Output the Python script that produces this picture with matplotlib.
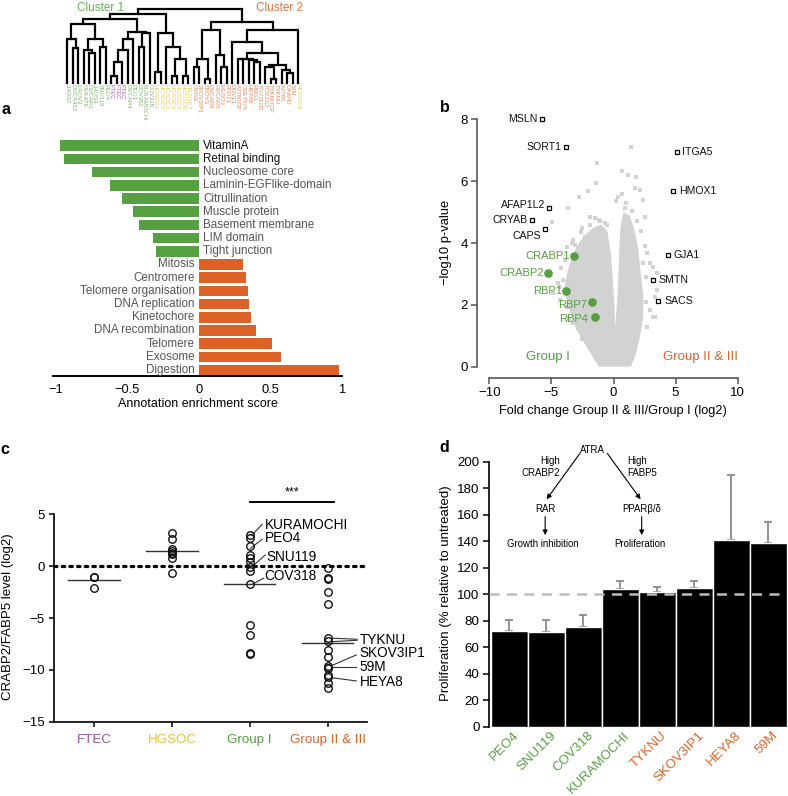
import matplotlib
matplotlib.use("Agg")
import matplotlib.pyplot as plt
import numpy as np

plt.rcParams['font.family'] = ['Liberation Sans', 'DejaVu Sans']
plt.rcParams['axes.unicode_minus'] = True

GREEN = '#55a041'
ORANGE = '#dd6228'
PURPLE = '#9a4fb0'
YELLOW = '#e8c23c'

# ---------------- data ----------------
# dendrogram leaves (left to right) and their group
leaf_names = ['JHOS2', 'OVCA433', 'CAOV3', 'OVKATE', 'OVCAR3', 'JHOS4', 'SNU119', 'PEO4',
              'FTEC', 'FTEC', 'FTEC',
              'OVCAR4', 'PEO1', 'COV362', 'KURAMOCHI', 'COV318',
              'HGSOC1', 'HGSOC2', 'HGSOC3', 'HGSOC4', 'HGSOC5', 'HGSOC6', 'HGSOC7',
              'OVISE', 'SKOV3IP1', 'SKOV3', 'OVCAR8', 'OVCAR5', 'MESOV', 'EFO21', 'DOV13',
              'A2780CP', 'OSE7576', 'HEYA8', 'RMG1', 'TOV112D', 'TOV21G', 'TYKNUCP', 'TYKNU',
              'A2780', 'OAW42', '59M',
              'HGSOC8']
leaf_groups = ['g'] * 8 + ['p'] * 3 + ['g'] * 5 + ['y'] * 7 + ['o'] * 19 + ['y']

# tree: [merge height, left, right]; leaves are indices
tree = [1.0,
        [0.93,
         [0.865,
          [0.80, [0.60, 0, [0.47, 1, 2]],
                 [0.59, [0.45, 3, [0.40, 4, 5]], [0.49, 6, 7]]],
          [0.69, [0.60, [0.45, [0.29, [0.10, 8, 9], 10], 11], 12],
                 [0.67, [0.49, 13, 14], 15]]],
         [0.67, [0.15, 16, 17],
                [0.49, 18, [0.33, [0.09, 19, 20], [0.09, 21, 22]]]]],
        [0.83,
         [0.72, [0.33, [0.22, 23, 24], [0.06, 25, 26]],
                [0.38, 27, [0.22, 28, 29]]],
         [0.72, [0.56, 30,
                 [0.41, [0.33, [0.32, 31, 32], [0.31, 33, [0.29, 34, 35]]],
                        [0.24, [0.22, 36, [0.06, 37, 38]], [0.18, 39, [0.13, 40, 41]]]]],
          42]]]

# panel a: annotation enrichment
terms = ['VitaminA', 'Retinal binding', 'Nucleosome core', 'Laminin-EGFlike-domain',
         'Citrullination', 'Muscle protein', 'Basement membrane', 'LIM domain', 'Tight junction',
         'Mitosis', 'Centromere', 'Telomere organisation', 'DNA replication', 'Kinetochore',
         'DNA recombination', 'Telomere', 'Exosome', 'Digestion']
scores = [-0.97, -0.94, -0.75, -0.62, -0.54, -0.46, -0.42, -0.32, -0.30,
          0.31, 0.33, 0.34, 0.35, 0.36, 0.40, 0.51, 0.57, 0.98]

# panel b: volcano
cloud_x = [-1.2, -2.1, -3.0, -3.6, -4.0, -3.7, -3.3, -2.8, -2.2, -1.6, -1.0, -0.5, -0.2, 0.0,
           0.15, 0.35, 0.45, 0.55, 0.8, 1.3, 1.7, 2.0, 2.2, 2.4, 2.4, 2.1, 1.8, 1.4]
cloud_y = [0.0, 0.6, 1.2, 1.9, 2.5, 3.1, 3.6, 4.0, 4.3, 4.5, 4.6, 4.4, 3.6, 2.5,
           1.3, 2.5, 3.6, 4.5, 5.0, 4.9, 4.4, 3.8, 3.0, 2.3, 1.6, 0.9, 0.4, 0.0]
bg_x = [1.38, -1.30, 0.66, 1.19, -1.41, 1.81, -2.03, -2.75, 1.73, 2.13, 2.40, -3.64, -4.98,
        -1.89, -1.49, -1.09, -0.55, -2.56, -3.24, -3.77, 2.54, 2.94, 3.48, 3.34, 3.21, -4.04,
        -4.31, -3.50, -4.87, -3.77, 3.21, 3.48, 2.94, 3.34, 2.40, 2.67, -4.44, -4.31, -3.37,
        -2.9, -2.3, 1.0, 0.7, 2.2, 2.6, -3.3, 2.7,
        -4.2, -3.9, -3.1, -2.6, -1.9, -1.2, -0.7, 0.9, 1.5, 1.9, 2.5, 2.6, -2.5, -3.6, 0.2, 0.4]
bg_y = [7.12, 6.58, 6.34, 6.20, 5.93, 6.13, 5.70, 5.50, 5.77, 5.72, 5.39, 5.13, 4.69,
        4.85, 4.80, 4.72, 4.59, 4.48, 4.10, 3.88, 4.85, 3.35, 3.02, 2.27, 1.62, 2.81,
        2.59, 2.38, 2.38, 1.94, 3.24, 2.48, 1.83, 1.62, 3.35, 3.67, 2.70, 2.16, 3.99,
        3.8, 4.2, 5.3, 5.6, 4.4, 2.9, 1.4, 1.3,
        3.2, 3.45, 3.95, 4.35, 4.6, 4.75, 4.65, 5.15, 5.05, 4.7, 3.9, 2.1, 0.9, 1.55, 5.35, 5.5]
hit_names = ['MSLN', 'SORT1', 'AFAP1L2', 'CRYAB', 'CAPS', 'ITGA5', 'HMOX1', 'GJA1', 'SMTN', 'SACS']
hit_x = [-5.78, -3.86, -5.17, -6.59, -5.52, 5.08, 4.82, 4.41, 3.21, 3.56]
hit_y = [8.0, 7.12, 5.15, 4.75, 4.46, 6.94, 5.69, 3.61, 2.81, 2.13]
ra_names = ['CRABP1', 'CRABP2', 'RBP1', 'RBP7', 'RBP4']
ra_x = [-3.18, -5.25, -3.82, -1.71, -1.49]
ra_y = [3.58, 3.04, 2.45, 2.10, 1.62]

# panel c: CRABP2/FABP5 ratio
c_groups = ['FTEC', 'HGSOC', 'Group I', 'Group II & III']
c_values = [
    [-1.0, -1.05, -2.07],
    [3.23, 2.62, 1.66, 1.49, 1.30, 1.15, 0.82, -0.63],
    [3.01, 2.69, 1.95, 1.08, 0.76, 0.43, -0.05, -0.46, -1.75, -5.67, -6.63, -8.40, -8.50],
    [-0.14, -1.11, -1.26, -2.52, -3.65, -6.95, -7.18, -8.08, -8.78, -9.62, -9.79, -9.85,
     -10.49, -10.66, -11.29, -11.77],
]
c_centre = [-1.36, 1.47, -1.75, -7.44]

# panel d: proliferation
d_lines = ['PEO4', 'SNU119', 'COV318', 'KURAMOCHI', 'TYKNU', 'SKOV3IP1', 'HEYA8', '59M']
d_values = [72.5, 71.5, 75.5, 104, 101.7, 105, 141, 138.4]
d_err = [7.8, 8.8, 9.0, 6.0, 3.5, 5.2, 49, 16.3]
d_colors = [GREEN] * 4 + [ORANGE] * 4

# ---------------- figure ----------------
W, H = 788, 796
fig = plt.figure(figsize=(W / 100, H / 100), dpi=100)


def add_ax(l, t, r, b):
    return fig.add_axes([l / W, 1 - b / H, (r - l) / W, (b - t) / H])


def ftext(x, y, s, **kw):
    fig.text(x / W, 1 - y / H, s, **kw)


# dendrogram
axt = add_ax(64.55, 5, 301.05, 83)
axt.set_xlim(-0.5, 42.5)
axt.set_ylim(0, 1.054)
axt.axis('off')


def draw_tree(node):
    if isinstance(node, int):
        return node, 0.0
    h, left, right = node
    xl, hl = draw_tree(left)
    xr, hr = draw_tree(right)
    axt.plot([xl, xl, xr, xr], [hl, h, h, hr], color='k', lw=1.6,
             solid_joinstyle='miter', clip_on=False)
    return (xl + xr) / 2, h


draw_tree(tree)
gcol = {'g': '#7cb86b', 'p': '#a463bb', 'y': '#ecc95a', 'o': '#ea8a5e'}
for i, (name, g) in enumerate(zip(leaf_names, leaf_groups)):
    axt.text(i, -0.02, name, rotation=-90, ha='center', va='top', fontsize=4.3,
             color=gcol[g], clip_on=False)
ftext(101, 8, 'Cluster 1', color='#6aad5a', fontsize=8.5, ha='center', va='center')
ftext(279, 8, 'Cluster 2', color='#e07545', fontsize=8.5, ha='center', va='center')

# panel a
axa = add_ax(51.4, 137.8, 342.3, 376)
rows = np.arange(len(terms))
bar_cols = [GREEN if s < 0 else ORANGE for s in scores]
axa.barh(rows, scores, height=0.81, color=bar_cols)
axa.set_xlim(-1.03, 1.0)
axa.set_ylim(17.45, -0.6)
for r, (t, s) in enumerate(zip(terms, scores)):
    col = '#111111' if r < 2 else '#555555'
    if s < 0:
        axa.text(0.03, r, t, ha='left', va='center', fontsize=8.4, color=col)
    else:
        axa.text(-0.03, r, t, ha='right', va='center', fontsize=8.4, color=col)
for s in ['left', 'right', 'top']:
    axa.spines[s].set_visible(False)
axa.spines['bottom'].set_linewidth(1.4)
axa.spines['bottom'].set_bounds(-1.02, 1.0)
axa.set_yticks([])
axa.set_xticks([-1, -0.5, 0, 0.5, 1])
axa.set_xticklabels(['\u22121', '\u22120.5', '0', '0.5', '1'])
axa.tick_params(axis='x', length=0, pad=6, labelsize=9.3)
axa.set_xlabel('Annotation enrichment score', fontsize=9)
axa.xaxis.set_label_coords(0.505, -0.092)

# panel b
axb = add_ax(477.3, 110.2, 741.4, 377.7)
axb.set_xlim(-10.97, 10.3)
axb.set_ylim(-0.356, 8.3)
axb.fill(cloud_x, cloud_y, color='#d2d2d2', lw=0, zorder=1)
axb.scatter(bg_x, bg_y, marker='s', s=6, color='#d2d2d2', lw=0, zorder=2)
axb.plot(hit_x, hit_y, 's', ms=3.0, mfc='white', mec='k', mew=0.9, ls='none', zorder=4)
axb.plot(ra_x, ra_y, 'o', ms=5.2, color=GREEN, ls='none', zorder=4)
hit_off = {'AFAP1L2': (-3, 2), 'CAPS': (-3, -5)}
for n, x, y in zip(hit_names, hit_x, hit_y):
    if x < 0:
        dx, dy = hit_off.get(n, (-3, 0))
        ha = 'right'
    else:
        dx, dy = (4, 0) if n != 'SACS' else (5, 0)
        ha = 'left'
    axb.annotate(n, (x, y), xytext=(dx, dy), textcoords='offset points', ha=ha,
                 va='center', fontsize=7.6, color='#111111')
ra_off = {'RBP7': (-4, -2), 'RBP4': (-5, -2)}
for n, x, y in zip(ra_names, ra_x, ra_y):
    dx, dy = ra_off.get(n, (-3, 0))
    axb.annotate(n, (x, y), xytext=(dx, dy), textcoords='offset points', ha='right',
                 va='center', fontsize=8, color=GREEN)
axb.text(-5.3, 0.3, 'Group I', color=GREEN, fontsize=9.5, ha='center', va='center')
axb.text(7.0, 0.3, 'Group II & III', color=ORANGE, fontsize=9.5, ha='center', va='center')
for s in ['right', 'top']:
    axb.spines[s].set_visible(False)
axb.spines['left'].set_bounds(0, 8)
axb.spines['bottom'].set_bounds(-10, 10)
for s in ['left', 'bottom']:
    axb.spines[s].set_color('#555555')
    axb.spines[s].set_linewidth(1.2)
axb.set_xticks([-10, -5, 0, 5, 10])
axb.set_yticks([0, 2, 4, 6, 8])
axb.tick_params(length=4, width=1.1, color='#555555', labelsize=9.5, pad=3)
axb.set_xlabel('Fold change Group II & III/Group I (log2)', fontsize=9.2)
axb.set_ylabel('\u2212log10 p-value', fontsize=9.3)
axb.xaxis.set_label_coords(0.515, -0.102)
axb.yaxis.set_label_coords(-0.096, 0.504)

# panel c
axc = add_ax(54, 483.2, 366.8, 721.7)
axc.set_xlim(-0.515, 3.505)
axc.set_ylim(-15, 8)
axc.plot([-0.515, 3.505], [0, 0], color='k', lw=2.3, ls=(0, (0.8, 1.6)),
         dash_capstyle='round', zorder=1)
for i, vals in enumerate(c_values):
    axc.plot([i] * len(vals), vals, 'o', ms=5.4, mfc='none', mec='#111111', mew=1.0,
             ls='none', zorder=3)
    axc.plot([i - 0.33, i + 0.33], [c_centre[i]] * 2, color='#333333', lw=1.0, zorder=2)
axc.plot([2.0, 3.08], [6.22, 6.22], color='k', lw=1.4)
axc.text(2.54, 6.5, '***', ha='center', va='bottom', fontsize=9)
# labelled cell lines
lab_c = [('KURAMOCHI', (2.03, 3.0), (2.16, 4.04), (2.19, 3.97)),
         ('PEO4', (2.01, 1.72), (2.16, 2.59), (2.19, 2.69)),
         ('SNU119', (2.03, -0.05), (2.20, 1.08), (2.21, 0.86)),
         ('COV318', (2.03, -1.75), (2.18, -1.17), (2.19, -0.92)),
         ('TYKNU', (3.06, -6.95), (3.38, -7.05), (3.41, -7.12)),
         ('SKOV3IP1', (3.05, -9.6), (3.37, -8.56), (3.41, -8.40)),
         ('59M', (3.06, -9.75), (3.37, -9.75), (3.41, -9.75)),
         ('HEYA8', (3.05, -10.75), (3.37, -11.07), (3.41, -11.14))]
for name, p0, p1, pt in lab_c:
    axc.plot([p0[0], p1[0]], [p0[1], p1[1]], color='#333333', lw=0.8, clip_on=False)
    axc.text(pt[0], pt[1], name, ha='left', va='center', fontsize=9.8, clip_on=False)
axc.plot([3.06, 3.38], [-7.28, -7.15], color='#333333', lw=0.8, clip_on=False)
for s in ['right', 'top']:
    axc.spines[s].set_visible(False)
axc.spines['left'].set_bounds(-15, 5)
for s in ['left', 'bottom']:
    axc.spines[s].set_linewidth(1.2)
axc.set_yticks([5, 0, -5, -10, -15])
axc.set_yticklabels(['5', '0', '\u22125', '\u221210', '\u221215'])
axc.set_xticks(range(4))
axc.set_xticklabels(c_groups)
for lbl, col in zip(axc.get_xticklabels(), [PURPLE, YELLOW, GREEN, ORANGE]):
    lbl.set_color(col)
axc.tick_params(length=3.5, width=1.1, labelsize=9.6, pad=3)
axc.tick_params(axis='x', pad=5)
axc.set_ylabel('CRABP2/FABP5 level (log2)', fontsize=9.5)
axc.yaxis.set_label_coords(-0.128, 0.44)

# panel d
axd = add_ax(489.3, 445.8, 786.7, 726.7)
xs = np.arange(len(d_lines))
axd.bar(xs, d_values, width=1.0, color='black', edgecolor='white', lw=1.0, zorder=2)
axd.errorbar(xs, d_values, yerr=[np.zeros(len(d_err)), d_err], fmt='none',
             ecolor='#8a8a8a', elinewidth=1.3, capsize=3, capthick=1.3, zorder=1)
axd.axhline(100, color='#bdbdbd', lw=1.8, ls=(0, (4, 3)), zorder=3)
axd.set_xlim(-0.54, 7.5)
axd.set_ylim(0, 212)
axd.set_yticks(range(0, 201, 20))
axd.set_xticks(xs + 0.1)
axd.set_xticklabels(d_lines, rotation=45, ha='right', va='top', rotation_mode='anchor')
for lbl, col in zip(axd.get_xticklabels(), d_colors):
    lbl.set_color(col)
for s in ['right', 'top', 'bottom']:
    axd.spines[s].set_visible(False)
axd.spines['left'].set_bounds(0, 200)
axd.spines['left'].set_linewidth(1.2)
axd.tick_params(axis='y', length=4, width=1.1, labelsize=9.6, pad=3)
axd.tick_params(axis='x', length=0, labelsize=9.6, pad=2)
axd.set_ylabel('Proliferation (% relative to untreated)', fontsize=9.5)
axd.yaxis.set_label_coords(-0.125, 0.475)
# pathway sketch
fs = 6.9
axd.text(2.26, 208.8, 'ATRA', ha='center', va='center', fontsize=fs)
axd.text(1.37, 196, 'High\nCRABP2', ha='right', va='center', fontsize=fs,
         multialignment='right', linespacing=1.25)
axd.text(3.18, 196, 'High\nFABP5', ha='left', va='center', fontsize=fs,
         multialignment='left', linespacing=1.25)
arw = dict(arrowstyle='-|>', color='k', lw=0.8, mutation_scale=7, shrinkA=0, shrinkB=0)
axd.annotate('', xy=(1.01, 171.6), xytext=(1.91, 206.3), arrowprops=arw)
axd.annotate('', xy=(3.55, 171.6), xytext=(2.65, 206.3), arrowprops=arw)
axd.text(0.97, 164, 'RAR', ha='center', va='center', fontsize=fs)
axd.text(3.58, 164, 'PPAR\u03b2/\u03b4', ha='center', va='center', fontsize=fs)
axd.annotate('', xy=(0.97, 144.6), xytext=(0.97, 158.5), arrowprops=arw)
axd.annotate('', xy=(3.58, 144.6), xytext=(3.58, 158.5), arrowprops=arw)
axd.text(0.91, 137.9, 'Growth inhibition', ha='center', va='center', fontsize=fs)
axd.text(3.54, 137.9, 'Proliferation', ha='center', va='center', fontsize=fs)

# panel letters
for x, y, s in [(5.5, 109, 'a'), (445, 108, 'b'), (5, 449, 'c'), (444, 447, 'd')]:
    ftext(x, y, s, fontsize=11.5, fontweight='bold', ha='center', va='center')

fig.savefig('out.png', dpi=100)
